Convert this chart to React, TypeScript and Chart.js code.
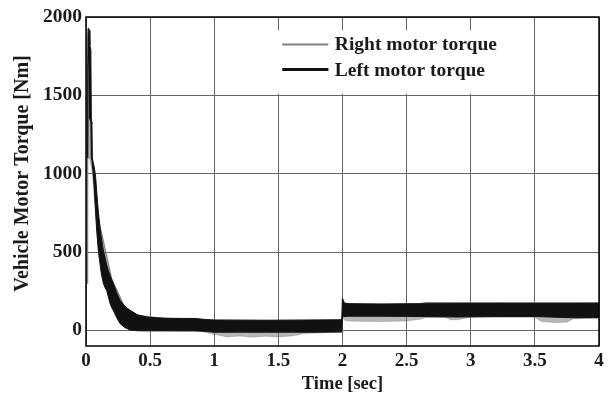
import React, { useEffect, useRef } from "react";
import { Chart, registerables } from "chart.js";

Chart.register(...registerables);

// Time axis (seconds) and torque axis (Nm)
const xTicks = [0, 0.5, 1, 1.5, 2, 2.5, 3, 3.5, 4];
const xTickLabels = ["0", "0.5", "1", "1.5", "2", "2.5", "3", "3.5", "4"];
const yTicks = [0, 500, 1000, 1500, 2000];
const yTickLabels = ["0", "500", "1000", "1500", "2000"];

const xTitle = "Time [sec]";
const yTitle = "Vehicle Motor Torque [Nm]";
const seriesLabels = ["Right motor torque", "Left motor torque"];

// Left motor torque: envelope (upper / lower) of the fast oscillation
const leftT = [
  0.013, 0.016, 0.018, 0.026, 0.03, 0.038, 0.041, 0.046, 0.049, 0.057, 0.065,
  0.075, 0.085, 0.096, 0.11, 0.12, 0.135, 0.15, 0.161, 0.175, 0.19, 0.213,
  0.24, 0.265, 0.3, 0.343, 0.4, 0.473, 0.55, 0.654, 0.75, 0.85, 0.89, 0.95,
  1.0, 1.2, 1.4, 1.6, 1.8, 1.995, 2.0, 2.01, 2.05, 2.3, 2.6, 2.9, 3.2, 3.5,
  3.8, 4.0,
];
const leftHi = [
  1100, 1925, 1930, 1915, 1820, 1790, 1330, 1320, 1100, 1070, 1040, 980, 870,
  760, 650, 590, 513, 460, 420, 380, 345, 299, 240, 192, 155, 128, 100, 85, 80,
  77, 76, 76, 72, 68, 66, 65, 64, 65, 66, 67, 205, 175, 170, 168, 170, 171, 171,
  171, 171, 172,
];
const leftLo = [
  1100, 1700, 1750, 1700, 1350, 1330, 1100, 1090, 1060, 1004, 900, 750, 620,
  513, 420, 360, 300, 270, 256, 210, 165, 128, 80, 43, 20, 2, -2, -3, -3, -3,
  -3, -3, -5, -8, -12, -12, -12, -12, -12, -10, 85, 88, 90, 90, 88, 85, 88, 88,
  80, 82,
];

// Right motor torque: envelope of the fast oscillation
const rightT = [
  0.0115, 0.0125, 0.016, 0.03, 0.05, 0.1, 0.2, 0.3, 0.4, 0.6, 0.9, 1.0, 1.1,
  1.2, 1.3, 1.4, 1.5, 1.6, 1.65, 1.7, 1.85, 1.995, 2.0, 2.02, 2.1, 2.3, 2.5,
  2.6, 2.65, 2.8, 2.85, 2.9, 3.0, 3.5, 3.55, 3.65, 3.75, 3.8, 3.9, 4.0,
];
const rightHi = [
  300, 1600, 1900, 1800, 1050, 700, 330, 150, 95, 76, 70, 64, 64, 63, 63, 63,
  63, 64, 64, 64, 65, 66, 200, 170, 168, 166, 168, 169, 177, 177, 177, 177, 177,
  177, 177, 177, 177, 177, 177, 177,
];
const rightLo = [
  300, 1100, 1100, 1090, 1000, 480, 140, 15, -5, -5, -8, -25, -42, -36, -44,
  -38, -42, -36, -30, -20, -16, -14, 80, 62, 58, 56, 60, 70, 82, 82, 66, 68, 84,
  84, 56, 50, 52, 74, 76, 76,
];

const SERIF = "'Liberation Serif', 'Times New Roman', Times, serif";
const GRAY = "#808080";
const BLACK = "#111111";
const TEXT = "#1a1a1a";

const pts = (t: number[], v: number[]) => t.map((x, i) => ({ x, y: v[i] }));

// Frame around the plot area, the boxed legend and the rotated y title
const framePlugin = {
  id: "frameAndLegend",
  afterDraw(chart: Chart) {
    const { ctx, chartArea: a, scales } = chart;
    ctx.save();
    ctx.strokeStyle = "#000";
    ctx.lineWidth = 1.5;
    ctx.strokeRect(a.left, a.top, a.right - a.left, a.bottom - a.top);

    const x = scales.x;
    const y = scales.y;
    const boxL = x.getPixelForValue(1.46);
    const boxR = x.getPixelForValue(3.44);
    const boxT = y.getPixelForValue(1915);
    const boxB = y.getPixelForValue(1510);
    ctx.fillStyle = "#fff";
    ctx.fillRect(boxL, boxT, boxR - boxL, boxB - boxT);

    const lineX0 = x.getPixelForValue(1.53);
    const lineX1 = x.getPixelForValue(1.89);
    const textX = x.getPixelForValue(1.94);
    const rows = [
      { label: seriesLabels[0], color: GRAY, width: 2, yv: 1825 },
      { label: seriesLabels[1], color: BLACK, width: 3, yv: 1665 },
    ];
    ctx.font = `bold 19.5px ${SERIF}`;
    ctx.textBaseline = "middle";
    ctx.textAlign = "left";
    for (const r of rows) {
      const py = y.getPixelForValue(r.yv);
      ctx.strokeStyle = r.color;
      ctx.lineWidth = r.width;
      ctx.beginPath();
      ctx.moveTo(lineX0, py);
      ctx.lineTo(lineX1, py);
      ctx.stroke();
      ctx.fillStyle = TEXT;
      ctx.fillText(r.label, textX, py + 1);
    }

    // y axis title
    ctx.translate(23, (a.top + a.bottom) / 2 - 8);
    ctx.rotate(-Math.PI / 2);
    ctx.font = `bold 20px ${SERIF}`;
    ctx.textAlign = "center";
    ctx.textBaseline = "middle";
    ctx.fillStyle = TEXT;
    ctx.fillText(yTitle, 0, 0);
    ctx.restore();
  },
};

export default function App() {
  const ref = useRef<HTMLCanvasElement | null>(null);

  useEffect(() => {
    if (!ref.current) return;
    const chart = new Chart(ref.current, {
      type: "line",
      data: {
        datasets: [
          {
            label: seriesLabels[1],
            data: pts(leftT, leftHi),
            borderColor: BLACK,
            borderWidth: 1,
            pointRadius: 0,
            fill: false,
          },
          {
            label: seriesLabels[1] + " (lower)",
            data: pts(leftT, leftLo),
            borderColor: BLACK,
            backgroundColor: BLACK,
            borderWidth: 1,
            pointRadius: 0,
            fill: "-1",
          },
          {
            label: seriesLabels[0],
            data: pts(rightT, rightHi),
            borderColor: GRAY,
            borderWidth: 1.2,
            pointRadius: 0,
            fill: false,
          },
          {
            label: seriesLabels[0] + " (lower)",
            data: pts(rightT, rightLo),
            borderColor: "rgba(120,120,120,0.35)",
            backgroundColor: "rgba(110,110,110,0.5)",
            borderWidth: 1,
            pointRadius: 0,
            fill: "-1",
          },
        ],
      },
      options: {
        responsive: false,
        animation: false,
        parsing: false,
        normalized: true,
        layout: { padding: { left: 0, right: 9, top: 17, bottom: 0 } },
        plugins: {
          legend: { display: false },
          tooltip: { enabled: false },
        },
        scales: {
          x: {
            type: "linear",
            min: 0,
            max: 4,
            afterFit: (s: any) => {
              s.height = 48;
            },
            afterBuildTicks: (s: any) => {
              s.ticks = xTicks.map((v) => ({ value: v }));
            },
            ticks: {
              callback: (v: any) => xTickLabels[xTicks.indexOf(Number(v))] ?? "",
              font: { family: SERIF, size: 19, weight: "bold" },
              color: TEXT,
              padding: 4,
              maxRotation: 0,
              autoSkip: false,
            },
            grid: { color: "#666666", lineWidth: 1, drawTicks: false },
            border: { display: false },
            title: {
              display: true,
              text: xTitle,
              font: { family: SERIF, size: 18.5, weight: "bold" },
              color: TEXT,
              padding: { top: 0, bottom: -1 },
            },
          },
          y: {
            type: "linear",
            min: -100,
            max: 2000,
            afterFit: (s: any) => {
              s.width = 86;
            },
            afterBuildTicks: (s: any) => {
              s.ticks = yTicks.map((v) => ({ value: v }));
            },
            ticks: {
              callback: (v: any) => yTickLabels[yTicks.indexOf(Number(v))] ?? "",
              font: { family: SERIF, size: 19.5, weight: "bold" },
              color: TEXT,
              padding: 4,
              autoSkip: false,
            },
            grid: { color: "#666666", lineWidth: 1, drawTicks: false },
            border: { display: false },
            title: { display: false },
          },
        },
      },
      plugins: [framePlugin],
    });
    return () => chart.destroy();
  }, []);

  return (
    <div style={{ position: "absolute", left: 0, top: 0, width: 608, height: 394, background: "#fff" }}>
      <canvas ref={ref} width={608} height={394} />
    </div>
  );
}
